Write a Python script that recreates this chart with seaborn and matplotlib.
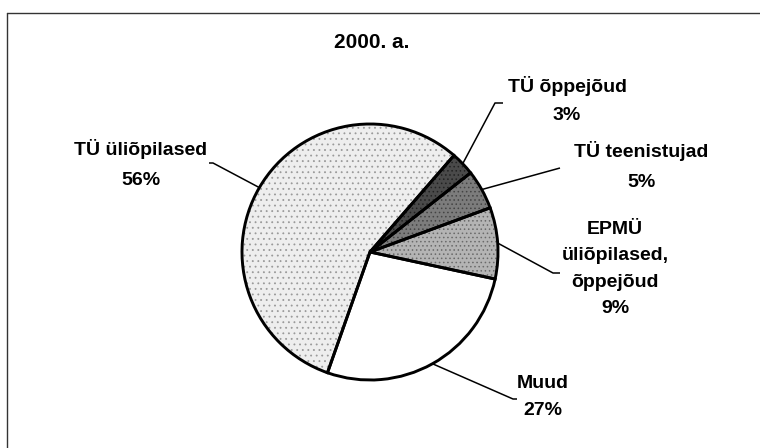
import numpy as np
import matplotlib
matplotlib.use("Agg")
import matplotlib.pyplot as plt
import seaborn as sns

# ---- data ----
title = "2000. a."
categories = ["TÜ õppejõud", "TÜ teenistujad", "EPMÜ\nüliõpilased,\nõppejõud", "Muud", "TÜ üliõpilased"]
shares = [3, 5, 9, 27, 56]
pct_labels = ["3%", "5%", "9%", "27%", "56%"]

sns.set_theme(style="white")
plt.rcParams["font.family"] = ["Liberation Sans", "DejaVu Sans"]
plt.rcParams["text.color"] = "black"
plt.rcParams["hatch.linewidth"] = 0.6

W, H = 760, 448
fig = plt.figure(figsize=(W / 100, H / 100), dpi=100)
fig.patch.set_facecolor("white")

# pie centre (px) and radius (px)
cx, cy, R = 370, 252, 128
ax = fig.add_axes([(cx - R) / W, (H - cy - R) / H, 2 * R / W, 2 * R / H])

fills = ["#4a4a4a", "#7c7c7c", "#b4b4b4", "#ffffff", "#eeeeee"]
hatch_cols = ["#222222", "#444444", "#6a6a6a", "#ffffff", "#9a9a9a"]
hatches = ["....", "....", "....", "", "..."]
start = 49

wedges, _ = ax.pie(shares, startangle=start, counterclock=False, colors=fills,
                   wedgeprops=dict(linewidth=0), radius=1)
for w, h, hc in zip(wedges, hatches, hatch_cols):
    w.set_hatch(h)
    w.set_edgecolor(hc)
    w.set_linewidth(0)
outline, _ = ax.pie(shares, startangle=start, counterclock=False,
                    wedgeprops=dict(facecolor="none", edgecolor="black", linewidth=2.1),
                    radius=1)
ax.set_xlim(-1, 1)
ax.set_ylim(-1, 1)
ax.axis("off")


def d(px, py):
    return ((px - cx) / R, (cy - py) / R)


# label positions (px) and leader line end points (px)
label_pos = [(567, 100), (641, 166), (615, 269), (543, 397), (141, 164)]
leader_ends = [[(495, 103), (503, 103)],
               [(560, 168)],
               [(553, 273), (560, 273)],
               [(513, 399), (517, 399)],
               [(213, 163), (209, 163)]]
spacing = [1.9, 2.0, 1.7, 1.8, 2.0]

for w, cat, pct, pos, ends, ls in zip(outline, categories, pct_labels, label_pos, leader_ends, spacing):
    mid = np.deg2rad((w.theta1 + w.theta2) / 2)
    pts = [(np.cos(mid), np.sin(mid))] + [d(*p) for p in ends]
    xs, ys = zip(*pts)
    ax.plot(xs, ys, color="black", lw=1.1, clip_on=False, solid_capstyle="butt")
    tx, ty = d(*pos)
    ax.text(tx, ty, f"{cat}\n{pct}", ha="center", va="center", multialignment="center",
            fontsize=14, fontweight="bold", linespacing=ls, clip_on=False, color="black")

fig.text(372 / W, 1 - 42 / H, title, ha="center", va="center", fontsize=15,
         fontweight="bold", color="black")

# frame (top and left edges visible)
fig.add_artist(plt.Line2D([7 / W, 7 / W], [0, 1 - 13 / H], color="#333333", lw=1.0))
fig.add_artist(plt.Line2D([7 / W, 1], [1 - 13 / H, 1 - 13 / H], color="#333333", lw=1.0))

fig.savefig("out.png", dpi=100, facecolor="white")
